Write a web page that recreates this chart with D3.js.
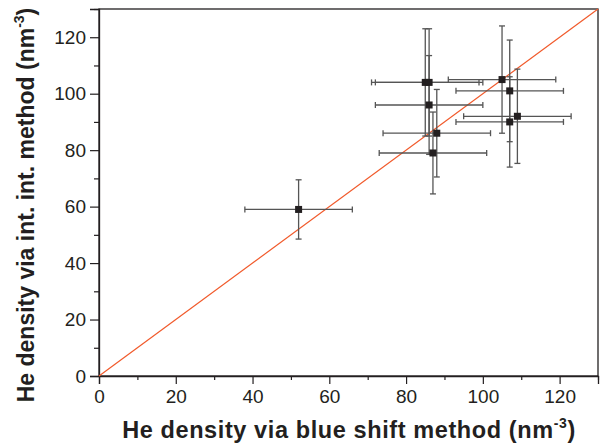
<!DOCTYPE html>
<html>
<head>
<style>
  body { margin: 0; background: #fff; }
  text { font-family: "Liberation Sans", Arial, sans-serif; fill: #231f20; }
</style>
</head>
<body>
<script src="https://d3js.org/d3.v7.min.js"></script>
<div id="chart"></div>
<script>
  const width = 600
  const height = 447
  const margin = { top: 9, left: 99, right: 2, bottom: 71 }

  // blue shift method (x) vs integrated intensity method (y), with errors
  const xValues = [52, 85, 86, 86, 87, 88, 105, 107, 107, 109]
  const yValues = [59, 104, 104, 96, 79, 86, 105, 101, 90, 92]
  const xErrors = [14, 14, 14, 14, 14, 14, 14, 14, 14, 14]
  const yErrors = [10.5, 19, 19, 17.5, 14.5, 15.5, 19, 18, 16, 16.7]
  const majorTicks = [0, 20, 40, 60, 80, 100, 120]
  const minorTicks = [10, 30, 50, 70, 90, 110, 130]

  const points = xValues.map((x, i) => ({ x: x, y: yValues[i], ex: xErrors[i], ey: yErrors[i] }))

  const svg = d3.select("#chart").append("svg").attr("width", width).attr("height", height)

  const x = d3.scaleLinear().domain([0, 130]).range([margin.left, width - margin.right])
  const y = d3.scaleLinear().domain([0, 130]).range([height - margin.bottom, margin.top])

  const ink = "#231f20"

  // frame
  svg.append("rect")
    .attr("x", x(0)).attr("y", y(130))
    .attr("width", x(130) - x(0)).attr("height", y(0) - y(130))
    .attr("fill", "none").attr("stroke", ink).attr("stroke-width", 1.3)

  // axes
  svg.append("g")
    .attr("transform", "translate(0," + y(0) + ")")
    .call(d3.axisBottom(x).tickValues(majorTicks).tickSize(8).tickPadding(6))
  svg.append("g")
    .attr("transform", "translate(0," + y(0) + ")")
    .call(d3.axisBottom(x).tickValues(minorTicks).tickSize(4).tickFormat(""))
    .call(g => g.select(".domain").remove())

  svg.append("g")
    .attr("transform", "translate(" + x(0) + ",0)")
    .call(d3.axisLeft(y).tickValues(majorTicks).tickSize(9).tickPadding(4))
  svg.append("g")
    .attr("transform", "translate(" + x(0) + ",0)")
    .call(d3.axisLeft(y).tickValues(minorTicks).tickSize(5).tickFormat(""))
    .call(g => g.select(".domain").remove())

  svg.selectAll(".tick line").attr("stroke", ink).attr("stroke-width", 1.2)
  svg.selectAll(".domain").attr("stroke", ink).attr("stroke-width", 1.3)
  svg.selectAll(".tick text").attr("font-size", 19).attr("fill", ink)
    .attr("font-family", "Liberation Sans, Arial, sans-serif")

  // y = x reference line
  svg.append("line")
    .attr("x1", x(0)).attr("y1", y(0))
    .attr("x2", x(130)).attr("y2", y(130))
    .attr("stroke", "#f15a2b").attr("stroke-width", 1.2)

  // error bars
  const cap = 3
  const bars = svg.append("g").attr("stroke", "#555").attr("stroke-width", 1.3)
  points.forEach(d => {
    bars.append("line").attr("x1", x(d.x - d.ex)).attr("x2", x(d.x + d.ex)).attr("y1", y(d.y)).attr("y2", y(d.y))
    bars.append("line").attr("x1", x(d.x - d.ex)).attr("x2", x(d.x - d.ex)).attr("y1", y(d.y) - cap).attr("y2", y(d.y) + cap)
    bars.append("line").attr("x1", x(d.x + d.ex)).attr("x2", x(d.x + d.ex)).attr("y1", y(d.y) - cap).attr("y2", y(d.y) + cap)
    bars.append("line").attr("x1", x(d.x)).attr("x2", x(d.x)).attr("y1", y(d.y - d.ey)).attr("y2", y(d.y + d.ey))
    bars.append("line").attr("x1", x(d.x) - cap).attr("x2", x(d.x) + cap).attr("y1", y(d.y - d.ey)).attr("y2", y(d.y - d.ey))
    bars.append("line").attr("x1", x(d.x) - cap).attr("x2", x(d.x) + cap).attr("y1", y(d.y + d.ey)).attr("y2", y(d.y + d.ey))
  })

  // markers
  const sq = 7
  svg.append("g").selectAll("rect").data(points).enter().append("rect")
    .attr("x", d => x(d.x) - sq / 2).attr("y", d => y(d.y) - sq / 2)
    .attr("width", sq).attr("height", sq).attr("fill", ink)

  // axis titles
  const xTitle = svg.append("text")
    .attr("x", 349).attr("y", 438)
    .attr("text-anchor", "middle").attr("font-size", 23.5).attr("font-weight", "bold")
    .attr("letter-spacing", 0.6)
  xTitle.append("tspan").text("He density via blue shift method (nm")
  xTitle.append("tspan").attr("font-size", 14).attr("dy", -10).text("-3")
  xTitle.append("tspan").attr("dy", 10).text(")")

  const yTitle = svg.append("text")
    .attr("transform", "translate(34,205) rotate(-90)")
    .attr("text-anchor", "middle").attr("font-size", 23).attr("font-weight", "bold")
  yTitle.append("tspan").text("He density via int. int. method (nm")
  yTitle.append("tspan").attr("font-size", 14).attr("dy", -10).text("-3")
  yTitle.append("tspan").attr("dy", 10).text(")")
</script>
</body>
</html>
